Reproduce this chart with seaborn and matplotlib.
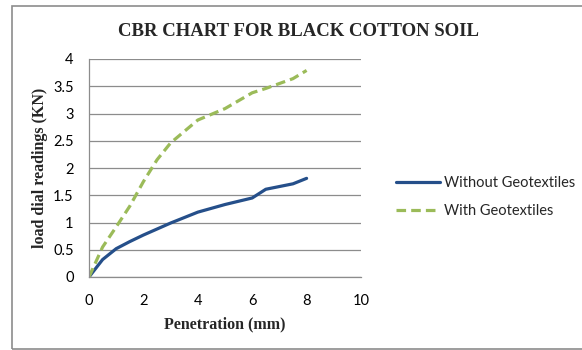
import numpy as np
import pandas as pd
import matplotlib
matplotlib.use("Agg")
import matplotlib.pyplot as plt
import seaborn as sns
from matplotlib.patches import Rectangle
from matplotlib.lines import Line2D

# penetration (mm) and load readings (KN)
penetration = [0, 0.5, 1.0, 1.5, 2.0, 2.5, 3.0, 4.0, 5.0, 6.0, 6.5, 7.5, 8.0]
without_geo = [0, 0.32, 0.52, 0.65, 0.77, 0.88, 0.99, 1.19, 1.33, 1.45, 1.61, 1.71, 1.81]
with_geo = [0, 0.55, 0.92, 1.30, 1.75, 2.15, 2.46, 2.88, 3.09, 3.38, 3.46, 3.64, 3.79]
series_names = ["Without Geotextiles", "With Geotextiles"]

df = pd.DataFrame({
    "Penetration": penetration * 2,
    "Load": without_geo + with_geo,
    "Series": [series_names[0]] * len(penetration) + [series_names[1]] * len(penetration),
})

sns.set_style("white")
plt.rcParams["font.family"] = ["Lato", "DejaVu Sans"]

fig = plt.figure(figsize=(5.82, 3.5), dpi=100)
fig.patches.append(Rectangle((11.5 / 582, 1.5 / 350), 0.99, 343 / 350,
                             transform=fig.transFigure, fill=False,
                             edgecolor="#8c8c8c", linewidth=1.2))
ax = fig.add_axes([89 / 582, 73 / 350, 272 / 582, 218 / 350])

sns.lineplot(data=df, x="Penetration", y="Load", hue="Series", style="Series",
             palette={series_names[0]: "#254F8A", series_names[1]: "#9BBB59"},
             dashes={series_names[0]: "", series_names[1]: (3, 1.6)},
             linewidth=2.3, ax=ax, legend=False)

ax.set_xlim(0, 10)
ax.set_ylim(0, 4)
ax.set_xticks(np.arange(0, 11, 2))
ax.set_yticks(np.arange(0, 4.01, 0.5))
ax.set_yticklabels(["0", "0.5", "1", "1.5", "2", "2.5", "3", "3.5", "4"])
ax.yaxis.grid(True, color="#8c8c8c", linewidth=0.9)
ax.xaxis.grid(False)
for side in ["top", "right"]:
    ax.spines[side].set_visible(False)
for side in ["left", "bottom"]:
    ax.spines[side].set_color("#8c8c8c")
    ax.spines[side].set_linewidth(0.9)
ax.tick_params(axis="both", length=0, labelsize=10.5, colors="#000000")
ax.tick_params(axis="x", pad=12)
ax.tick_params(axis="y", pad=11)

serif = ["Liberation Serif", "DejaVu Serif"]
ax.set_xlabel("Penetration (mm)", family=serif, fontweight="bold", fontsize=11.5, labelpad=6)
ax.set_ylabel("load dial readings (KN)", family=serif, fontweight="bold", fontsize=11.5, labelpad=4)
fig.text(298 / 582, 1 - 31 / 350, "CBR CHART FOR BLACK COTTON SOIL", family=serif,
         fontweight="bold", fontsize=13.5, ha="center", va="center")

# legend drawn to the right of the plot area
handles = [Line2D([], [], color="#254F8A", linewidth=2.3),
           Line2D([], [], color="#9BBB59", linewidth=2.3, linestyle=(0, (3, 1.6)))]
fig.legend(handles, series_names, loc="center left", bbox_to_anchor=(383 / 582, 1 - 197 / 350),
           frameon=False, fontsize=10.5, handlelength=3.0, handletextpad=0.3, labelspacing=1.0)

fig.savefig("out.png", dpi=100)
